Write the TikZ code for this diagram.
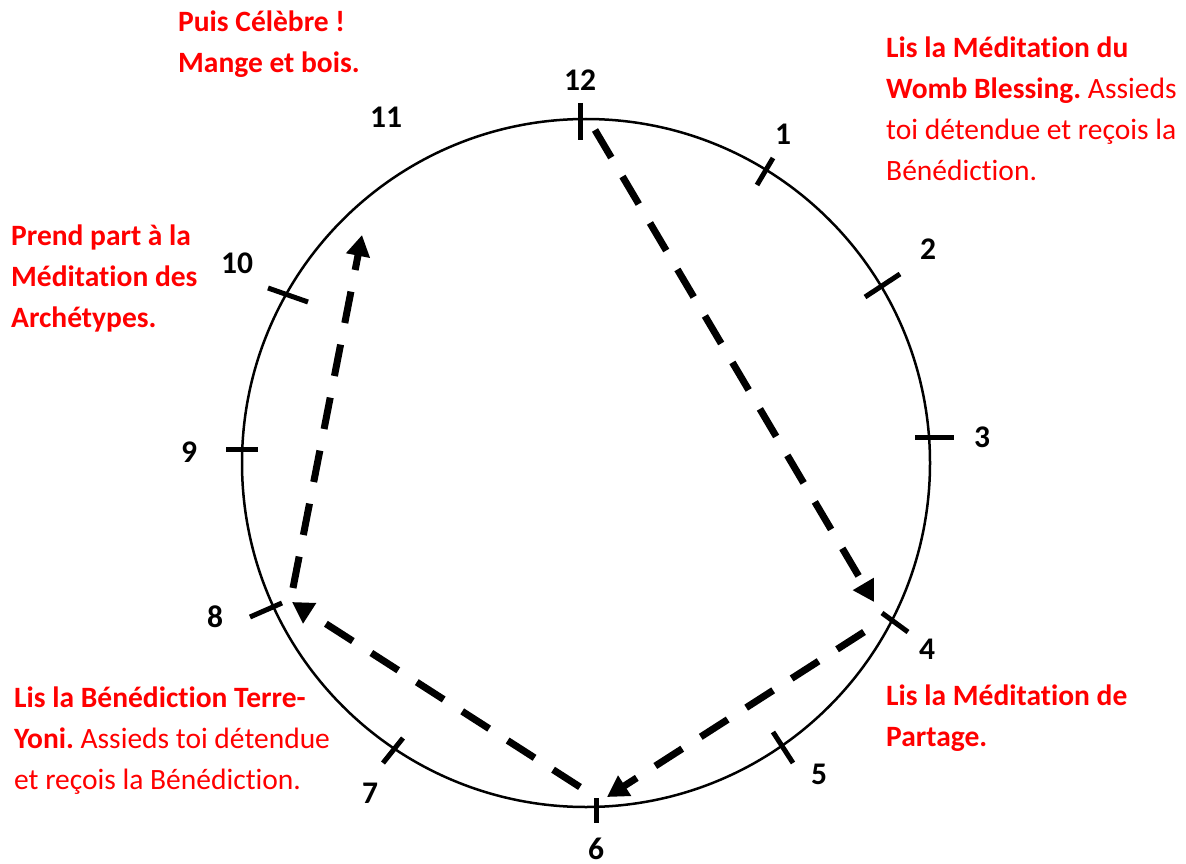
\documentclass[tikz,border=0pt]{standalone}
\usepackage{fontspec}
\setmainfont{Carlito}[Ligatures=NoCommon]
\usetikzlibrary{arrows.meta}
\frenchspacing
\begin{document}
\begin{tikzpicture}[x=1pt,y=-1pt,
    tickmark/.style={line width=5pt},
    road/.style={line width=7pt,dash pattern=on 32pt off 22pt,-{Triangle[length=21pt,width=23pt]}},
    hour/.style={inner sep=0pt,font=\fontsize{31.5}{34}\selectfont\bfseries},
    note/.style={text=red,align=left,anchor=base west,inner sep=0pt,font=\fontsize{29.5}{41}\selectfont}]
\useasboundingbox (0,0) rectangle (1186,864);
\draw[line width=2.5pt] (586,463) circle[radius=344pt];
\foreach \xa/\ya/\xb/\yb in {580/103/580/140, 773/158/757/185, 865/297/900/274,
    915/437/954/437, 882/613/908/632, 773/732/793/763, 596/798/596/823,
    383/763/403/738, 250/617/282/603, 226/449/258/449, 268/288/308/302}{
    \draw[tickmark] (\xa,\ya)--(\xb,\yb);
}
\foreach \h/\x/\y in {12/580/80, 1/783/134, 2/928/249, 3/982/437, 4/927/649, 5/819/774,
    6/596/849, 7/370/793, 8/215/617, 9/189/452, 10/237/263, 11/386/117}{
    \node[hour] (h\h) at (\x,\y) {\h};
}
\coordinate (a12) at (595,130);
\coordinate (a4) at (874,602);
\coordinate (b4) at (864,632);
\coordinate (b6) at (607,797);
\coordinate (c6) at (580,787);
\coordinate (c8) at (292,602);
\coordinate (d8) at (293,588);
\coordinate (d11) at (362,235);
\draw[road] (a12)--(a4);
\draw[road] (b4)--(b6);
\draw[road] (c6)--(c8);
\draw[road] (d8)--(d11);
\node[note] (celebre) at (178,73) {\textbf{Puis Célèbre !}\\ \textbf{Mange et bois.}};
\node[note] (archetypes) at (11,327) {\textbf{Prend part à la}\\ \textbf{Méditation des}\\ \textbf{Archétypes.}};
\node[note] (womb) at (886,180) {\textbf{Lis la Méditation du}\\ \textbf{Womb Blessing.} Assieds\\ toi détendue et reçois la\\ Bénédiction.};
\node[note] (partage) at (886,746) {\textbf{Lis la Méditation de}\\ \textbf{Partage.}};
\node[note] (yoni) at (14,789) {\textbf{Lis la Bénédiction Terre-}\\ \textbf{Yoni.} Assieds toi détendue\\ et reçois la Bénédiction.};
\end{tikzpicture}
\end{document}
